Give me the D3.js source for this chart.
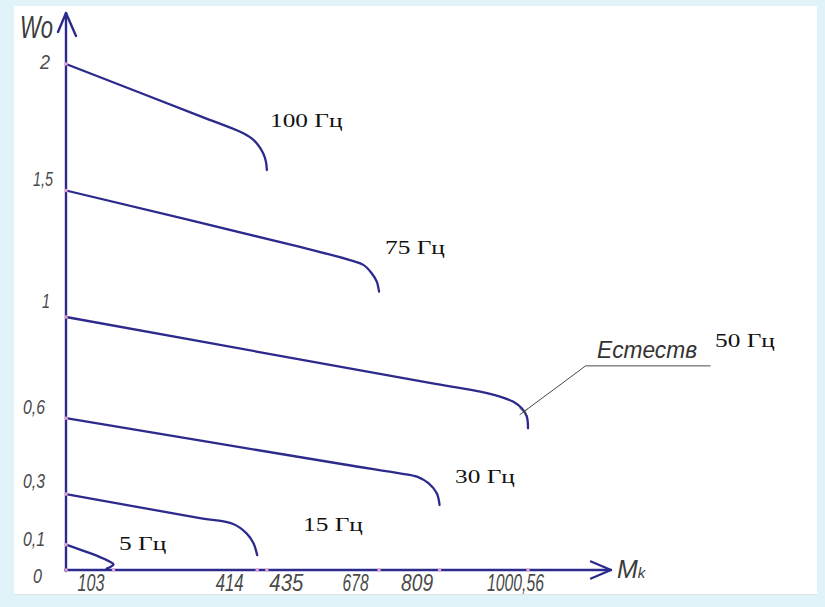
<!DOCTYPE html>
<html>
<head>
<meta charset="utf-8">
<script src="https://cdn.jsdelivr.net/npm/d3@7"></script>
<style>
  html, body { margin: 0; padding: 0; background: #dff3f9; }
  svg { display: block; }
</style>
</head>
<body>
<svg id="chart" width="825" height="607"></svg>
<script>
// Mechanical characteristics W0(Mk) at different supply frequencies
const frequencies = ["100 Гц", "75 Гц", "50 Гц", "30 Гц", "15 Гц", "5 Гц"];

const m100 = [0, 300, 377, 402, 416, 427, 433, 435];
const w100 = [2.0, 1.787, 1.732, 1.706, 1.680, 1.647, 1.614, 1.581];

const m75 = [0, 500, 615, 644, 662, 673, 678];
const w75 = [1.5, 1.28, 1.225, 1.206, 1.173, 1.14, 1.10];

const m50 = [0, 800, 897, 940, 969, 987, 998, 1000.56];
const w50 = [1.0, 0.736, 0.705, 0.685, 0.665, 0.639, 0.606, 0.56];

const m30 = [0, 600, 723, 760, 785, 803, 809];
const w30 = [0.6, 0.418, 0.382, 0.369, 0.343, 0.303, 0.257];

const m15 = [0, 290, 362, 391, 406, 414];
const w15 = [0.3, 0.205, 0.182, 0.145, 0.106, 0.059];

const m5 = [0, 70, 92, 103, 96, 88];
const w5 = [0.1, 0.054, 0.036, 0.022, 0.012, 0.006];

const yTicks = [0, 0.1, 0.3, 0.6, 1, 1.5, 2];
const yTickLabels = ["0", "0,1", "0,3", "0,6", "1", "1,5", "2"];
const xTicks = [103, 414, 435, 678, 809, 1000.56];
const xTickLabels = ["103", "414", "435", "678", "809", "1000,56"];

// natural characteristic point (50 Hz) marked with a leader
const naturalPoint = [991, 0.625];
const naturalLabel = "Естеств";

const series = [
  { name: frequencies[0], m: m100, w: w100 },
  { name: frequencies[1], m: m75, w: w75 },
  { name: frequencies[2], m: m50, w: w50 },
  { name: frequencies[3], m: m30, w: w30 },
  { name: frequencies[4], m: m15, w: w15 },
  { name: frequencies[5], m: m5, w: w5 }
];

// ---- layout ----
const svg = d3.select("#chart");
const ink = "#2c2a8c";
const gost = "'Liberation Sans', 'DejaVu Sans', sans-serif";
const serif = "'Liberation Serif', 'DejaVu Serif', serif";
const labelInk = "#4a4a4a";

const x = d3.scaleLinear().domain([0, 1000.56]).range([66, 528]);
const y = d3.scaleLinear().domain([0, 2]).range([570, 64]);

// white sheet
svg.append("rect").attr("x", 14).attr("y", 6).attr("width", 803).attr("height", 589).attr("fill", "#ffffff");
svg.append("line").attr("x1", 14).attr("x2", 817).attr("y1", 594.5).attr("y2", 594.5)
  .attr("stroke", "#e2e2e2").attr("stroke-width", 1);

// axes with arrows
const x0 = x(0), y0 = y(0);
const yTop = 13, xEnd = 611;
const axes = svg.append("g").attr("stroke", ink).attr("fill", "none")
  .attr("stroke-width", 2.4).attr("stroke-linecap", "round").attr("stroke-linejoin", "round");
axes.append("line").attr("x1", x0).attr("y1", y0 + 1).attr("x2", x0).attr("y2", yTop);
axes.append("path").attr("d", `M${x0 - 8},${yTop + 19}L${x0},${yTop}L${x0 + 10},${yTop + 23}`);
axes.append("line").attr("x1", x0 - 1).attr("y1", y0).attr("x2", xEnd).attr("y2", y0);
axes.append("path").attr("d", `M${xEnd - 20},${y0 - 8.5}L${xEnd},${y0}L${xEnd - 20},${y0 + 8.5}`);

// curves
const line = d3.line()
  .x(d => x(d[0]))
  .y(d => y(d[1]))
  .curve(d3.curveCatmullRom.alpha(0.5));

svg.append("g").selectAll("path").data(series).join("path")
  .attr("d", s => line(d3.zip(s.m, s.w)))
  .attr("fill", "none")
  .attr("stroke", ink)
  .attr("stroke-width", 2.3)
  .attr("stroke-linecap", "round");

// tick points on the axes
const dots = svg.append("g").attr("fill", "#e6a2d4");
dots.selectAll("circle.yt").data(yTicks).join("circle").attr("class", "yt")
  .attr("cx", x0).attr("cy", d => y(d)).attr("r", 1.8);
dots.selectAll("circle.xt").data(xTicks).join("circle").attr("class", "xt")
  .attr("cx", d => x(d)).attr("cy", y0).attr("r", 1.8);

// squeeze a label to a given drawn width (narrow drafting lettering)
function fitWidth(sel, width) {
  sel.attr("textLength", width).attr("lengthAdjust", "spacingAndGlyphs");
}

// y tick labels: [right edge, baseline shift, width]
const yLabelPlace = {
  2: [50, 4, 10], 1.5: [53, -5, 20], 1: [50, -10, 8], 0.6: [45, -5, 22],
  0.3: [45, -7, 22], 0.1: [45, 1, 22], 0: [42, 12, 9]
};
const yAxis = svg.append("g").attr("transform", `translate(${x0},0)`)
  .call(d3.axisLeft(y).tickValues(yTicks).tickSize(0)
    .tickFormat((d, i) => yTickLabels[i]));
yAxis.select(".domain").remove();
yAxis.selectAll(".tick text")
  .attr("x", d => yLabelPlace[d][0] - x0)
  .attr("dy", d => yLabelPlace[d][1])
  .attr("text-anchor", "end")
  .attr("fill", labelInk)
  .style("font-family", gost).style("font-style", "italic").style("font-size", "19.5px")
  .each(function (d) { fitWidth(d3.select(this), yLabelPlace[d][2]); });

// x tick labels: [centre shift, width]
const xLabelPlace = {
  103: [-23, 27], 414: [-28, 28], 435: [19, 34], 678: [-24, 26], 809: [-23, 32], 1000.56: [-13, 57]
};
const xAxis = svg.append("g").attr("transform", `translate(0,${y0})`)
  .call(d3.axisBottom(x).tickValues(xTicks).tickSize(0)
    .tickFormat((d, i) => xTickLabels[i]));
xAxis.select(".domain").remove();
xAxis.selectAll(".tick text")
  .attr("x", d => xLabelPlace[d][0])
  .attr("y", 21).attr("dy", 0)
  .attr("text-anchor", "middle")
  .attr("fill", labelInk)
  .style("font-family", gost).style("font-style", "italic").style("font-size", "23px")
  .each(function (d) { fitWidth(d3.select(this), xLabelPlace[d][1]); });

// axis titles
const wTitle = svg.append("text").attr("x", 20).attr("y", 38)
  .attr("fill", "#3c3c3c").style("font-family", gost).style("font-style", "italic")
  .style("font-size", "31px").text("Wo");
fitWidth(wTitle, 33);

const mTitle = svg.append("text").attr("x", 617).attr("y", 578)
  .attr("fill", "#3c3c3c").style("font-family", gost).style("font-style", "italic");
mTitle.append("tspan").style("font-size", "25px").text("M");
mTitle.append("tspan").style("font-size", "15px").text("k");

// frequency labels
const freqPlace = {
  "100 Гц": [270, 127], "75 Гц": [385, 254], "50 Гц": [715, 347],
  "30 Гц": [455, 483], "15 Гц": [303, 531], "5 Гц": [119, 550]
};
svg.append("g").selectAll("text").data(series).join("text")
  .attr("transform", s => `translate(${freqPlace[s.name][0]},${freqPlace[s.name][1]}) scale(1.3,1)`)
  .attr("fill", "#111")
  .style("font-family", serif).style("font-size", "19.5px")
  .text(s => s.name);

// leader to the natural characteristic point
const px = x(naturalPoint[0]), py = y(naturalPoint[1]);
const leader = svg.append("g").attr("stroke", "#4a4a4a").attr("stroke-width", 1).attr("fill", "none");
leader.append("path").attr("d", `M${px},${py}L${px + 62},${py - 46}L${px + 187},${py - 46}`);
leader.append("path").attr("d", `M${px - 4},${py - 4}L${px + 4},${py + 4}M${px - 4},${py + 3}L${px + 4},${py - 3}`);
const natText = svg.append("text").attr("x", 597).attr("y", 358)
  .attr("fill", "#333").style("font-family", gost).style("font-style", "italic")
  .style("font-size", "23px").text(naturalLabel);
fitWidth(natText, 100);
</script>
</body>
</html>
